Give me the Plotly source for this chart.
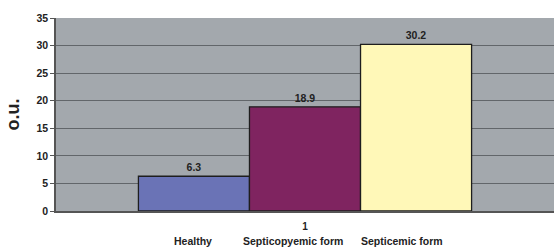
import plotly.graph_objects as go

categories = ["1"]
series_names = ["Healthy", "Septicopyemic form", "Septicemic form"]
series_values = [[6.3], [18.9], [30.2]]
series_colors = ["#6a73b6", "#7f2460", "#fff8b8"]
y_ticks = [0, 5, 10, 15, 20, 25, 30, 35]

fig = go.Figure()
for name, vals, col in zip(series_names, series_values, series_colors):
    fig.add_trace(go.Bar(
        x=categories, y=vals, name=name,
        marker=dict(color=col, line=dict(color="#1e1e1e", width=1.3)),
        text=[f"<b>{v:.1f}</b>" for v in vals], textposition="outside",
        textfont=dict(family="Liberation Sans, Arial", size=10.5, color="#222"),
        cliponaxis=False,
    ))

legend_x = [0.276, 0.476, 0.695]
for name, lx in zip(series_names, legend_x):
    fig.add_annotation(text=f"<b>{name}</b>", x=lx, y=-0.158, xref="paper", yref="paper",
                       showarrow=False, xanchor="center", yanchor="middle",
                       font=dict(family="Liberation Sans, Arial", size=10.5, color="#222"))

fig.update_layout(
    width=554, height=247,
    margin=dict(l=56, r=0, t=18, b=36, autoexpand=False),
    paper_bgcolor="white", plot_bgcolor="#a3a8ad",
    barmode="group", bargap=0.331, bargroupgap=0,
    showlegend=False,
    font=dict(family="Liberation Sans, Arial", color="#222"),
)
fig.update_xaxes(
    showgrid=False, showline=True, linecolor="#555", linewidth=1.5,
    tickfont=dict(size=10, family="Liberation Sans, Arial"), ticks="", ticklabelstandoff=5,
    tickprefix="<b>", ticksuffix="</b>",
)
fig.update_yaxes(
    range=[0, 35], tickvals=y_ticks, ticktext=[f"<b>{t}</b>" for t in y_ticks],
    showgrid=True, gridcolor="#62666a", gridwidth=1.2,
    showline=True, linecolor="#555", linewidth=1.5,
    ticks="outside", ticklen=4, tickcolor="#555",
    tickfont=dict(size=10.5, family="Liberation Sans, Arial"),
    title=dict(text="<b>o.u.</b>", font=dict(size=18, family="Liberation Sans, Arial"), standoff=12),
    zeroline=False,
)
fig.write_html("out.html", config={"displayModeBar": False},
               post_script="document.body.style.margin='0';document.body.style.padding='0';")
